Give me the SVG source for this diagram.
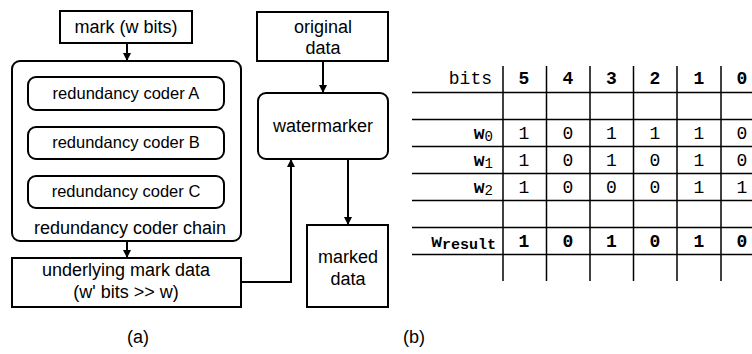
<svg xmlns="http://www.w3.org/2000/svg" width="752" height="354" viewBox="0 0 752 354">
  <defs>
    <marker id="arrow" viewBox="0 0 10 10" refX="10" refY="5" markerWidth="8" markerHeight="8" markerUnits="userSpaceOnUse" orient="auto">
      <path d="M0,0 L10,5 L0,10 Z" fill="#000"/>
    </marker>
    <style>
      .box { fill: #fff; stroke: #000; stroke-width: 2; }
      .lbl { font-family: "Liberation Sans", Arial, sans-serif; font-size: 18px; text-anchor: middle; fill: #000; }
      .small { font-size: 16.5px; }
      .wire { fill: none; stroke: #000; stroke-width: 2; }
      .grid { stroke: #000; stroke-width: 1.5; }
      .mono { font-family: "Liberation Mono", "Courier New", monospace; font-size: 18px; fill: #000; text-anchor: middle; }
      .b { font-weight: bold; }
      .hd { text-anchor: end; }
    </style>
  </defs>

  <!-- (a) embedding pipeline -->
  <g id="mark">
    <rect class="box" x="60" y="11" width="132" height="32"/>
    <text class="lbl" x="126" y="33">mark (w bits)</text>
  </g>
  <g id="coder-chain">
    <rect class="box" x="12" y="61" width="229" height="180" rx="8"/>
    <text class="lbl" x="130" y="234">redundancy coder chain</text>
  </g>
  <g id="coder-a">
    <rect class="box" x="28" y="77" width="196" height="33" rx="8"/>
    <text class="lbl small" x="126" y="99">redundancy coder A</text>
  </g>
  <g id="coder-b">
    <rect class="box" x="28" y="127" width="196" height="32" rx="8"/>
    <text class="lbl small" x="126" y="148">redundancy coder B</text>
  </g>
  <g id="coder-c">
    <rect class="box" x="28" y="176" width="196" height="32" rx="8"/>
    <text class="lbl small" x="126" y="197">redundancy coder C</text>
  </g>
  <g id="underlying">
    <rect class="box" x="12" y="258" width="229" height="49"/>
    <text class="lbl" x="126" y="276">underlying mark data</text>
    <text class="lbl" x="126" y="298">(w' bits &gt;&gt; w)</text>
  </g>
  <g id="original">
    <rect class="box" x="257" y="12" width="131" height="49"/>
    <text class="lbl" x="323" y="33">original</text>
    <text class="lbl" x="323" y="54">data</text>
  </g>
  <g id="watermarker">
    <rect class="box" x="258" y="93" width="130" height="66" rx="8"/>
    <text class="lbl" x="323" y="132">watermarker</text>
  </g>
  <g id="marked">
    <rect class="box" x="307" y="225" width="81" height="82"/>
    <text class="lbl" x="348" y="263">marked</text>
    <text class="lbl" x="348" y="285">data</text>
  </g>

  <g id="connectors">
    <line class="wire" x1="127" y1="43" x2="127" y2="61" marker-end="url(#arrow)"/>
    <line class="wire" x1="127" y1="241" x2="127" y2="258" marker-end="url(#arrow)"/>
    <polyline class="wire" points="241,282 291,282 291,159" marker-end="url(#arrow)"/>
    <line class="wire" x1="323" y1="61" x2="323" y2="93" marker-end="url(#arrow)"/>
    <line class="wire" x1="348" y1="159" x2="348" y2="225" marker-end="url(#arrow)"/>
  </g>

  <text class="lbl" x="138" y="343">(a)</text>

  <!-- (b) bit table -->
  <g id="bit-table">
    <g class="grid">
      <line x1="412" y1="92.5" x2="752" y2="92.5"/>
      <line x1="412" y1="119.5" x2="752" y2="119.5"/>
      <line x1="412" y1="146.5" x2="752" y2="146.5"/>
      <line x1="412" y1="173.5" x2="752" y2="173.5"/>
      <line x1="412" y1="200.5" x2="752" y2="200.5"/>
      <line x1="412" y1="227.5" x2="752" y2="227.5"/>
      <line x1="412" y1="254.5" x2="752" y2="254.5"/>
      <line x1="503" y1="66" x2="503" y2="281"/>
      <line x1="546.5" y1="66" x2="546.5" y2="281"/>
      <line x1="590" y1="66" x2="590" y2="281"/>
      <line x1="633.5" y1="66" x2="633.5" y2="281"/>
      <line x1="677" y1="66" x2="677" y2="281"/>
      <line x1="721" y1="66" x2="721" y2="281"/>
    </g>

    <text class="mono hd" x="492" y="84">bits</text>
    <g class="mono b">
      <text x="524" y="84">5</text><text x="568" y="84">4</text><text x="611.5" y="84">3</text>
      <text x="655" y="84">2</text><text x="699" y="84">1</text><text x="742" y="84">0</text>
    </g>

    <text class="mono hd" x="493" y="139"><tspan class="b">w</tspan><tspan font-size="14" dy="2">0</tspan></text>
    <g class="mono">
      <text x="524" y="139">1</text><text x="568" y="139">0</text><text x="611.5" y="139">1</text>
      <text x="655" y="139">1</text><text x="699" y="139">1</text><text x="742" y="139">0</text>
    </g>

    <text class="mono hd" x="493" y="166"><tspan class="b">w</tspan><tspan font-size="14" dy="2">1</tspan></text>
    <g class="mono">
      <text x="524" y="166">1</text><text x="568" y="166">0</text><text x="611.5" y="166">1</text>
      <text x="655" y="166">0</text><text x="699" y="166">1</text><text x="742" y="166">0</text>
    </g>

    <text class="mono hd" x="493" y="193"><tspan class="b">w</tspan><tspan font-size="14" dy="2">2</tspan></text>
    <g class="mono">
      <text x="524" y="193">1</text><text x="568" y="193">0</text><text x="611.5" y="193">0</text>
      <text x="655" y="193">0</text><text x="699" y="193">1</text><text x="742" y="193">1</text>
    </g>

    <text class="mono hd b" x="496" y="247"><tspan>w</tspan><tspan font-size="15" dy="2">result</tspan></text>
    <g class="mono b">
      <text x="524" y="247">1</text><text x="568" y="247">0</text><text x="611.5" y="247">1</text>
      <text x="655" y="247">0</text><text x="699" y="247">1</text><text x="742" y="247">0</text>
    </g>
  </g>

  <text class="lbl" x="414" y="343">(b)</text>
</svg>
